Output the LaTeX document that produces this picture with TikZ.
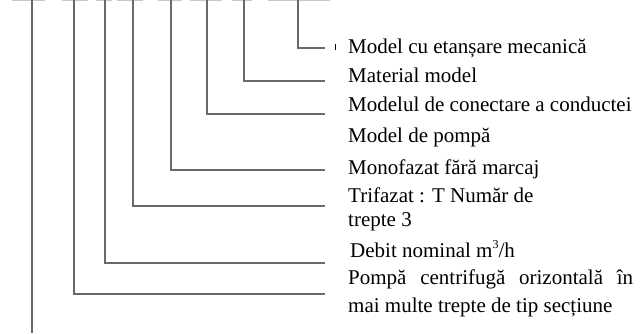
\documentclass[tikz,border=0pt]{standalone}
\usepackage{fontspec}
\setmainfont{Liberation Serif}
\begin{document}
\begin{tikzpicture}[x=1pt,y=-1pt,
  leg/.style={draw={rgb,255:red,105;green,105;blue,105}, line width=1.3pt},
  topseg/.style={draw={rgb,255:red,200;green,200;blue,200}, line width=0.8pt},
  lbl/.style={anchor=base west, inner sep=0pt, font=\fontsize{21}{26}\selectfont, text=black}]
\useasboundingbox (0,0) rectangle (642,333);
% top fragments
\foreach \a/\b in {12/45,62/88,96/112,117/143,158/182,190/222,232/252,268/330}
  \draw[topseg] (\a,0.4) -- (\b,0.4);
% leg tops and ends
\coordinate (t1) at (298,0); \coordinate (e1) at (325,48);
\coordinate (t2) at (244,0); \coordinate (e2) at (325,81);
\coordinate (t3) at (207,0); \coordinate (e3) at (325,114);
\coordinate (t4) at (171,0); \coordinate (e4) at (325,170);
\coordinate (t5) at (133,0); \coordinate (e5) at (325,206);
\coordinate (t6) at (105,0); \coordinate (e6) at (325,263);
\coordinate (t7) at (74,0);  \coordinate (e7) at (325,294);
\coordinate (t8) at (32,0);  \coordinate (e8) at (32,333);
\draw[leg] (t1) |- (e1);
\draw[leg] (t2) |- (e2);
\draw[leg] (t3) |- (e3);
\draw[leg] (t4) |- (e4);
\draw[leg] (t5) |- (e5);
\draw[leg] (t6) |- (e6);
\draw[leg] (t7) |- (e7);
\draw[leg] (t8) -- (e8);
% small tick
\coordinate (k1) at (335,44); \coordinate (k2) at (335,50);
\draw[black, line width=0.8pt] (k1) -- (k2);
% labels
\node[lbl] (l1) at (348,53) {Model cu etanșare mecanică};
\node[lbl] (l2) at (348,82) {Material model};
\node[lbl] (l3) at (348,111) {Modelul de conectare a conductei};
\node[lbl] (l4) at (348,142) {Model de pompă};
\node[lbl] (l5) at (348,174) {Monofazat fără marcaj};
\node[lbl] (l6) at (348,202) {Trifazat : T Număr de};
\node[lbl] (l7) at (348,226) {trepte 3};
\node[lbl] (l8) at (350,257) {Debit nominal m\raisebox{0.42em}{\fontsize{12}{12}\selectfont 3}/h};
\node[lbl] (l9) at (348,284) {\makebox[285pt][s]{Pompă centrifugă orizontală în}};
\node[lbl] (l10) at (348,312) {mai multe trepte de tip secțiune};
\end{tikzpicture}
\end{document}
